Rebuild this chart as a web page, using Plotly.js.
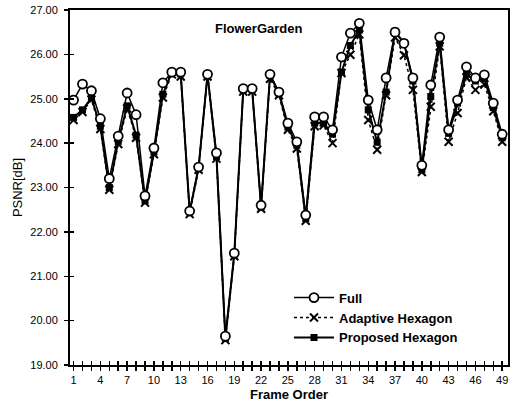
<!DOCTYPE html>
<html><head><meta charset="utf-8">
<script src="https://cdn.plot.ly/plotly-3.0.1.min.js"></script>
<style>html,body{margin:0;padding:0;background:#fff;}#c{width:511px;height:407px;}</style>
</head><body><div id="c"></div>
<script>
const frames = Array.from({length:49}, (_, i) => i + 1);
const full = [24.97,25.33,25.18,24.55,23.2,24.16,25.13,24.64,22.81,23.89,25.36,25.6,25.6,22.47,23.46,25.55,23.78,19.65,21.52,25.23,25.23,22.6,25.55,25.15,24.45,24.03,22.38,24.59,24.59,24.3,25.94,26.48,26.7,24.97,24.3,25.47,26.5,26.25,25.47,23.5,25.31,26.39,24.3,24.97,25.72,25.47,25.54,24.9,24.2];
const adaptive = [24.52,24.7,24.98,24.32,22.95,23.98,24.78,24.12,22.66,23.75,25.03,25.55,25.5,22.4,23.4,25.5,23.65,19.56,21.45,25.16,25.16,22.52,25.45,25.08,24.3,23.88,22.25,24.38,24.4,24.0,25.58,25.99,26.45,24.52,23.85,25.08,26.38,25.98,25.2,23.35,24.82,26.18,24.03,24.68,25.48,25.2,25.32,24.72,24.03];
const proposed = [24.58,24.75,25.02,24.38,23.0,24.04,24.84,24.18,22.7,23.8,25.1,25.6,25.56,22.45,23.45,25.55,23.7,19.6,21.5,25.2,25.2,22.56,25.53,25.13,24.36,23.95,22.3,24.45,24.45,24.2,25.6,26.2,26.55,24.75,24.02,25.15,26.52,26.26,25.4,23.4,25.05,26.25,24.22,24.9,25.55,25.4,25.45,24.8,24.12];
const yTicks = [19,20,21,22,23,24,25,26,27];
const xLabelEvery = 3;

const xTickText = frames.map(f => ((f - 1) % xLabelEvery === 0) ? String(f) : '');
const yTickText = yTicks.map(v => v.toFixed(2));
const xr = [0.6, 49.65];

const traces = [
  {x: frames, y: proposed, name: 'Proposed Hexagon', mode: 'lines+markers', legendrank: 3,
   line: {color: '#000', width: 2}, marker: {symbol: 'square', size: 7, color: '#000'}},
  {x: frames, y: adaptive, name: 'Adaptive Hexagon', mode: 'lines+markers', legendrank: 2,
   line: {color: '#000', width: 1.5, dash: 'dot'}, marker: {symbol: 'x-thin-open', size: 8, color: '#000', line: {width: 2, color: '#000'}}},
  {x: frames, y: full, name: 'Full', mode: 'lines+markers', legendrank: 1,
   line: {color: '#000', width: 1.5}, marker: {symbol: 'circle', size: 9, color: '#fff', line: {width: 1.8, color: '#000'}}},
  {x: frames, y: full, xaxis: 'x2', yaxis: 'y2', mode: 'none', showlegend: false, hoverinfo: 'skip'}
];

const layout = {
  width: 511, height: 407,
  margin: {l: 70, r: 3, t: 10, b: 42},
  paper_bgcolor: '#fff', plot_bgcolor: '#fff',
  font: {family: 'Liberation Sans, Arial, sans-serif', color: '#000', size: 11},
  showlegend: true,
  legend: {x: 0.5, y: 0.232, xanchor: 'left', yanchor: 'top', bgcolor: 'rgba(0,0,0,0)',
           font: {size: 13, family: 'Liberation Sans, Arial, sans-serif', weight: 'bold'}, tracegroupgap: 0, itemwidth: 40},
  xaxis: {range: xr, tickmode: 'array', tickvals: frames, ticktext: xTickText,
          ticks: 'outside', ticklen: 4, tickwidth: 1.5, tickcolor: '#000',
          showline: true, linecolor: '#000', linewidth: 2, mirror: true, showgrid: false, zeroline: false,
          tickfont: {size: 11}, title: {text: 'Frame Order', font: {size: 13, weight: 'bold'}, standoff: 5}},
  yaxis: {range: [19, 27], tickmode: 'array', tickvals: yTicks, ticktext: yTickText,
          ticks: 'outside', ticklen: 4, tickwidth: 1.5, tickcolor: '#000', ticklabelstandoff: 4,
          showline: true, linecolor: '#000', linewidth: 2, mirror: true, showgrid: false, zeroline: false,
          tickfont: {size: 11}, title: {text: 'PSNR[dB]', font: {size: 13}, standoff: 5}},
  xaxis2: {overlaying: 'x', matches: 'x', range: xr, tickmode: 'array', tickvals: frames, ticktext: frames.map(() => ''),
           ticks: 'inside', ticklen: 4, tickwidth: 1.5, tickcolor: '#000', showgrid: false, zeroline: false, showline: false},
  yaxis2: {overlaying: 'y', matches: 'y', range: [19, 27], tickmode: 'array', tickvals: yTicks, ticktext: yTicks.map(() => ''),
           ticks: 'inside', ticklen: 4, tickwidth: 1.5, tickcolor: '#000', showgrid: false, zeroline: false, showline: false},
  annotations: [{text: 'FlowerGarden', xref: 'paper', yref: 'paper', x: 0.43, y: 0.975, xanchor: 'center', yanchor: 'top',
                 showarrow: false, font: {size: 13, weight: 'bold'}}]
};

Plotly.newPlot('c', traces, layout, {displayModeBar: false, staticPlot: true});
</script></body></html>
